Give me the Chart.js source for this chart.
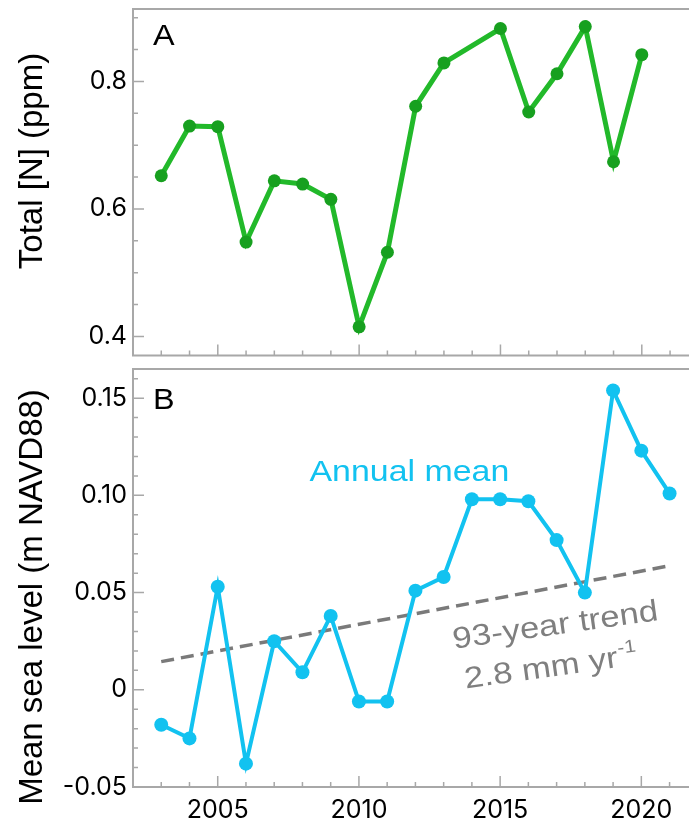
<!DOCTYPE html>
<html>
<head>
<meta charset="utf-8">
<script src="https://cdn.jsdelivr.net/npm/chart.js@4.4.1/dist/chart.umd.min.js"></script>
<style>
  body { margin: 0; background: #fff; width: 689px; height: 825px; overflow: hidden; }
  .panel { position: absolute; left: 0; width: 689px; }
</style>
</head>
<body>
<div class="panel" style="top:0;height:362px"><canvas id="chartA"></canvas></div>
<div class="panel" style="top:362px;height:463px"><canvas id="chartB"></canvas></div>
<script>
// Données
const years = [2003, 2004, 2005, 2006, 2007, 2008, 2009, 2010, 2011, 2012,
               2013, 2014, 2015, 2016, 2017, 2018, 2019, 2020, 2021];
const nitrogen = [0.652, 0.730, 0.729, 0.548, 0.644, 0.639, 0.615, 0.415, 0.532, 0.761,
                  0.829, null, 0.883, 0.752, 0.812, 0.886, 0.674, 0.842, null];
const seaLevel = [-0.018, -0.025, 0.053, -0.038, 0.025, 0.009, 0.038, -0.006, -0.006, 0.051,
                  0.058, 0.098, 0.098, 0.097, 0.077, 0.050, 0.154, 0.123, 0.101];
const trendYears = [2003, 2021];
const trendLevel = [0.0145, 0.0638];

const xMinorTicks = years;
const xLabelTicks = [2005, 2010, 2015, 2020];
const nMinorTicks = [0.4, 0.45, 0.5, 0.55, 0.6, 0.65, 0.7, 0.75, 0.8, 0.85, 0.9];
const nLabelTicks = [0.4, 0.6, 0.8];
const nLabelText = ['0.4', '0.6', '0.8'];
const slMinorTicks = [-0.05, -0.04, -0.03, -0.02, -0.01, 0, 0.01, 0.02, 0.03, 0.04, 0.05,
                      0.06, 0.07, 0.08, 0.09, 0.10, 0.11, 0.12, 0.13, 0.14, 0.15, 0.16];
const slLabelTicks = [-0.05, 0, 0.05, 0.10, 0.15];
const slLabelText = ['-0.05', '0', '0.05', '0.10', '0.15'];

const AXIS_GREY = '#a8a8a8';
const TICK_FONT = { family: 'Inter, "Liberation Sans", sans-serif', size: 25 };
const SANS = '"Liberation Sans", sans-serif';

function near(list, v) {
    return list.findIndex(t => Math.abs(t - v) < 1e-6);
}

function points(xs, ys) {
    return xs.map((x, i) => ({ x: x, y: ys[i] }));
}

// texte étiré horizontalement, comme sur la figure d'origine
function wideText(ctx, text, x, y, stretch) {
    ctx.save();
    ctx.translate(x, y);
    ctx.scale(stretch, 1);
    ctx.fillText(text, 0, 0);
    const w = ctx.measureText(text).width * stretch;
    ctx.restore();
    return w;
}

// Axes, graduations intérieures, titres et annotations
const frame = {
    id: 'frame',
    beforeDatasetsDraw(chart, args, opts) {
        const ctx = chart.ctx;
        const a = chart.chartArea;
        const xs = chart.scales.x, ys = chart.scales.y;
        ctx.save();
        ctx.strokeStyle = AXIS_GREY;
        ctx.lineWidth = 2;
        ctx.beginPath();
        ctx.moveTo(chart.width, a.top); ctx.lineTo(a.left, a.top);
        ctx.lineTo(a.left, a.bottom); ctx.lineTo(chart.width, a.bottom);
        ctx.stroke();
        ctx.lineWidth = 1.5;
        ctx.beginPath();
        xs.ticks.forEach(t => {
            const px = xs.getPixelForValue(t.value);
            const len = near(xLabelTicks, t.value) >= 0 ? 11 : 5;
            ctx.moveTo(px, a.bottom); ctx.lineTo(px, a.bottom - len);
        });
        ys.ticks.forEach(t => {
            const py = ys.getPixelForValue(t.value);
            const len = near(opts.majors, t.value) >= 0 ? 11 : 5;
            ctx.moveTo(a.left, py); ctx.lineTo(a.left + len, py);
        });
        ctx.stroke();

        // lettre du panneau
        ctx.fillStyle = '#000';
        ctx.font = '30px ' + SANS;
        ctx.textBaseline = 'alphabetic';
        wideText(ctx, opts.letter, a.left + 20, a.top + opts.letterDy, 1.08);

        // titre de l'axe y
        ctx.translate(33, opts.titleY);
        ctx.rotate(-Math.PI / 2);
        ctx.font = '33px ' + SANS;
        ctx.textAlign = 'center';
        ctx.textBaseline = 'middle';
        ctx.fillText(opts.title, 0, 0);
        ctx.restore();
    },
    afterDatasetsDraw(chart, args, opts) {
        if (!opts.notes) return;
        const ctx = chart.ctx;
        const xs = chart.scales.x, ys = chart.scales.y;
        ctx.save();
        ctx.textBaseline = 'alphabetic';
        ctx.font = '30px ' + SANS;
        ctx.fillStyle = '#12c2f0';
        wideText(ctx, 'Annual mean', xs.getPixelForValue(2008.25), ys.getPixelForValue(0.1076), 1.13);

        ctx.fillStyle = '#7f7f7f';
        ctx.translate(xs.getPixelForValue(2013.37), ys.getPixelForValue(0.0211));
        ctx.rotate(-8 * Math.PI / 180);
        wideText(ctx, '93-year trend', 0, 0, 1.16);
        const w = wideText(ctx, '2.8 mm yr', 6, 41, 1.16);
        ctx.font = '18px ' + SANS;
        wideText(ctx, '-1', 6 + w + 1, 28, 1.16);
        ctx.restore();
    }
};

function xScale(showLabels, height, pad) {
    return {
        type: 'linear',
        min: 2002,
        max: 2021.44,
        afterBuildTicks: s => { s.ticks = xMinorTicks.map(v => ({ value: v })); },
        afterFit: s => { s.height = height; s.paddingLeft = 0; s.paddingRight = 0; },
        grid: { display: false, drawTicks: false },
        border: { display: false },
        ticks: {
            display: showLabels,
            autoSkip: false,
            maxRotation: 0,
            padding: pad,
            color: '#000',
            font: TICK_FONT,
            callback: v => near(xLabelTicks, v) >= 0 ? String(v) : ''
        }
    };
}

function yScale(min, max, minors, majors, texts) {
    return {
        type: 'linear',
        min: min,
        max: max,
        afterBuildTicks: s => { s.ticks = minors.map(v => ({ value: v })); },
        afterFit: s => { s.width = 133; s.paddingTop = 0; s.paddingBottom = 0; },
        grid: { display: false, drawTicks: false },
        border: { display: false },
        ticks: {
            autoSkip: false,
            padding: 6,
            color: '#000',
            font: TICK_FONT,
            callback: v => { const i = near(majors, v); return i >= 0 ? texts[i] : ''; }
        }
    };
}

Chart.defaults.animation = false;

new Chart(document.getElementById('chartA'), {
    type: 'line',
    data: {
        datasets: [{
            data: points(years, nitrogen),
            borderColor: '#22b92a',
            borderWidth: 5,
            pointRadius: 6.5,
            pointBackgroundColor: '#17a01f',
            pointBorderWidth: 0,
            spanGaps: true,
            clip: false
        }]
    },
    options: {
        responsive: true,
        maintainAspectRatio: false,
        layout: { padding: { top: 9, left: 0, right: 0, bottom: 0 } },
        plugins: {
            legend: { display: false },
            tooltip: { enabled: false },
            frame: { letter: 'A', letterDy: 36, title: 'Total [N] (ppm)', titleY: 161, majors: nLabelTicks }
        },
        scales: {
            x: xScale(false, 6, 0),
            y: yScale(0.37, 0.9136, nMinorTicks, nLabelTicks, nLabelText)
        }
    },
    plugins: [frame]
});

new Chart(document.getElementById('chartB'), {
    type: 'line',
    data: {
        datasets: [{
            data: points(years, seaLevel),
            borderColor: '#12c2f0',
            borderWidth: 4,
            pointRadius: 7,
            pointBackgroundColor: '#12c2f0',
            pointBorderWidth: 0,
            order: 1,
            clip: false
        }, {
            data: points(trendYears, trendLevel),
            borderColor: '#7a7a7a',
            borderWidth: 3.5,
            borderDash: [13, 7],
            pointRadius: 0,
            order: 2
        }]
    },
    options: {
        responsive: true,
        maintainAspectRatio: false,
        layout: { padding: { top: 4, left: 0, right: 0, bottom: 0 } },
        plugins: {
            legend: { display: false },
            tooltip: { enabled: false },
            frame: { letter: 'B', letterDy: 40, title: 'Mean sea level (m NAVD88)', titleY: 235, majors: slLabelTicks, notes: true }
        },
        scales: {
            x: xScale(true, 38, 8),
            y: yScale(-0.05, 0.165, slMinorTicks, slLabelTicks, slLabelText)
        }
    },
    plugins: [frame]
});
</script>
</body>
</html>
